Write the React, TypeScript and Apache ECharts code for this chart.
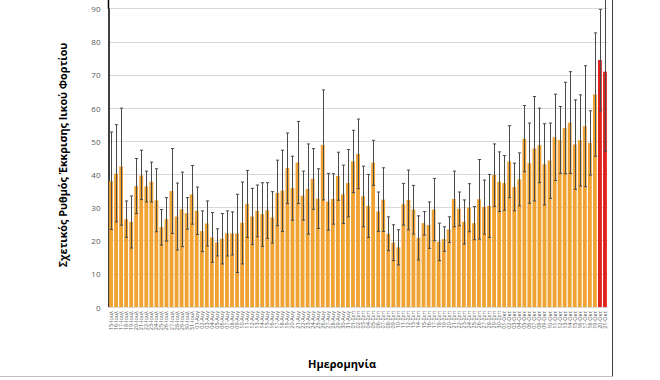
import React, { useEffect, useRef } from "react";
import * as echarts from "echarts";

const monthNames = ["Ιουλ", "Αυγ", "Σεπ", "Οκτ"];
const monthDays = [
  [15, 31],
  [1, 31],
  [1, 30],
  [1, 21],
];

const values = [
  38, 40.2, 42.4, 26.5, 25.7, 36.5, 39.7, 36.4, 37.8, 32.2,
  24.1, 26.5, 35, 27.3, 29.5, 28.3, 34, 29, 22.9, 25.2,
  21, 19.5, 20.6, 22.2, 22.2, 22.2, 25.4, 31.1, 27.3, 29,
  28, 29.2, 27, 34.4, 35.1, 41.9, 35.9, 43.6, 33.6, 35.6,
  38.7, 32.7, 48.9, 31.8, 32.6, 39.5, 34, 37.4, 43.9, 46.2,
  33.4, 30.5, 43.5, 28.8, 32.4, 22.1, 19.4, 18, 31, 32.3,
  29.4, 20.9, 25.3, 24.7, 29.4, 19.7, 20.5, 23.4, 32.6, 29.6,
  25.7, 30, 25.3, 32.5, 30.2, 30.5, 39.8, 37.8, 37.4, 43.9,
  36.2, 38.5, 50.8, 43.4, 47.8, 48.8, 43.1, 44.2, 51.2, 50.4,
  54, 55.6, 49, 50.3, 54.5, 49.5, 64.1, 74.5, 71,
];

const lows = [
  23.4, 25.7, 24.7, 21, 17.8, 28.2, 32.4, 31.7, 31.7, 22.7,
  18.7, 19.9, 22.2, 17.2, 18.2, 23.5, 25, 21.9, 16.7, 18.4,
  13.5, 15.4, 13, 15.4, 15.7, 10.4, 13, 21, 18.9, 21.2,
  18.3, 20.7, 19.3, 24.5, 22.8, 31.2, 26.2, 31.2, 26.2, 22,
  29.5, 23.7, 32.3, 23.2, 25, 32.2, 25.2, 27.2, 34.5, 35.7,
  24.2, 21, 36.7, 22.8, 22.8, 17, 14, 12.7, 24.7, 23.3,
  22, 14.2, 21.7, 17.7, 20, 14, 16.8, 19.5, 24.2, 24.5,
  19, 22.7, 20.3, 20.5, 22, 21, 30.3, 28.8, 29.2, 33,
  29, 30.5, 40.8, 31.3, 32, 37.5, 30.8, 32.8, 38.2, 40.3,
  40.2, 40.3, 35.5, 36.5, 36.3, 39.8, 45.5, 59.2, 47,
];

const highs = [
  52.8, 55, 60, 32, 33.5, 44.8, 47.3, 41, 43.7, 41.7,
  29.4, 33, 47.8, 37.4, 40.7, 33, 42.7, 36.2, 29, 32,
  28.5, 23.6, 28.2, 29, 28.7, 34, 37.7, 41.2, 35.8, 36.8,
  37.5, 37.5, 34.8, 44.3, 47.3, 52.5, 45.5, 56, 41, 49.2,
  47.8, 41.7, 65.5, 40.3, 40.2, 46.7, 42.8, 47.5, 53.3, 56.7,
  42.5, 40, 50.3, 34.7, 42, 27.2, 24.8, 23.3, 37.3, 41.3,
  36.7, 27.5, 28.8, 31.7, 38.8, 25.3, 24.2, 27.2, 41, 34.7,
  32.3, 37.2, 30.3, 44.5, 38.3, 40, 49.2, 46.8, 45.7, 54.7,
  43.4, 46.5, 60.8, 55.5, 63.5, 60, 55.3, 55.5, 64.2, 60.5,
  67.8, 71, 62.5, 64, 72.8, 59.2, 82.7, 89.8, 95,
];

const redFrom = 97;
const yTicks = { min: 0, max: 90, interval: 10 };

function buildCategories(): string[] {
  const out: string[] = [];
  monthDays.forEach(([a, b], m) => {
    for (let d = a; d <= b; d++) {
      out.push(String(d).padStart(2, "0") + "-" + monthNames[m]);
    }
  });
  return out;
}

export default function App() {
  const ref = useRef<HTMLDivElement>(null);
  useEffect(() => {
    if (!ref.current) return;
    const chart = echarts.init(ref.current, undefined, { renderer: "svg" });
    const categories = buildCategories();
    const font = "'Open Sans', 'Noto Sans', sans-serif";
    chart.setOption({
      animation: false,
      backgroundColor: "#ffffff",
      grid: { left: 108.5, right: 52.5, top: 8.7, bottom: 73, containLabel: false },
      xAxis: {
        type: "category",
        data: categories,
        axisLine: { show: true, lineStyle: { color: "#d9d9d9", width: 1 } },
        axisTick: { show: false },
        axisLabel: {
          interval: 0,
          rotate: 90,
          fontSize: 5.5,
          color: "#595959",
          margin: 4,
          fontFamily: font,
        },
      },
      yAxis: {
        type: "value",
        min: yTicks.min,
        max: yTicks.max,
        interval: yTicks.interval,
        axisLine: { show: true, lineStyle: { color: "#000000", width: 1.5 } },
        axisTick: { show: false },
        splitLine: { lineStyle: { color: "#d9d9d9", width: 1 } },
        axisLabel: { fontSize: 8, color: "#595959", margin: 8, fontFamily: font },
      },
      series: [
        {
          type: "bar",
          data: values.map((v, i) => ({
            value: v,
            itemStyle: { color: i >= redFrom ? "#e0211c" : "#f0a232" },
          })),
          barCategoryGap: "24%",
        },
        {
          type: "custom",
          clip: false,
          data: lows.map((l, i) => [i, l, highs[i]]),
          encode: { x: 0, y: [1, 2] },
          renderItem: (params: any, api: any) => {
            const x = api.value(0);
            const pLo = api.coord([x, api.value(1)]);
            const pHi = api.coord([x, api.value(2)]);
            const cx = Math.round(pLo[0]) + 0.5;
            const hw = 1.6;
            const st = { stroke: "#4a4a4a", lineWidth: 1 };
            return {
              type: "group",
              children: [
                { type: "line", shape: { x1: cx, y1: pLo[1], x2: cx, y2: pHi[1] }, style: st },
                { type: "line", shape: { x1: cx - hw, y1: pLo[1], x2: cx + hw, y2: pLo[1] }, style: st },
                { type: "line", shape: { x1: cx - hw, y1: pHi[1], x2: cx + hw, y2: pHi[1] }, style: st },
              ],
            };
          },
          z: 5,
        },
      ],
      graphic: [
        {
          type: "text",
          x: 62,
          y: 155,
          rotation: Math.PI / 2,
          style: {
            text: "Σχετικός Ρυθμός Έκκρισης Ιικού Φορτίου",
            fontSize: 10.8,
            fontWeight: "bold",
            fontFamily: font,
            fill: "#000000",
            align: "center",
            verticalAlign: "middle",
          },
        },
        {
          type: "text",
          x: 342,
          y: 363,
          style: {
            text: "Ημερομηνία",
            fontSize: 11,
            fontWeight: "bold",
            fontFamily: font,
            fill: "#000000",
            align: "center",
            verticalAlign: "middle",
          },
        },
        {
          type: "line",
          shape: { x1: 108.5, y1: 0, x2: 108.5, y2: 9 },
          style: { stroke: "#000000", lineWidth: 1.5 },
        },
        {
          type: "line",
          shape: { x1: 612.5, y1: 0, x2: 612.5, y2: 376.5 },
          style: { stroke: "#404040", lineWidth: 1 },
        },
        {
          type: "line",
          shape: { x1: 0, y1: 376.5, x2: 612.5, y2: 376.5 },
          style: { stroke: "#bfbfbf", lineWidth: 1 },
        },
      ],
    });
    return () => chart.dispose();
  }, []);
  return (
    <div
      ref={ref}
      style={{ position: "fixed", left: 0, top: 0, width: 660, height: 380 }}
    />
  );
}
